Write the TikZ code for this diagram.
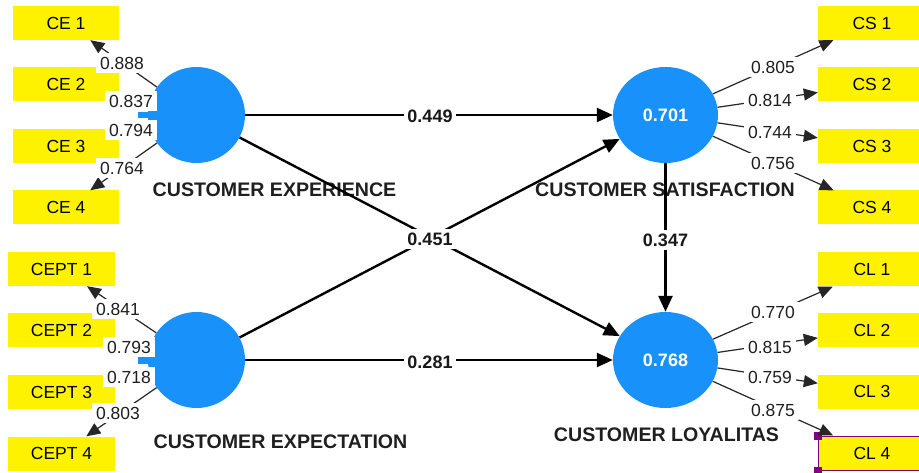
\documentclass[tikz,border=0pt]{standalone}
\usepackage{fontspec}
\setmainfont{Liberation Sans}
\usetikzlibrary{arrows.meta,shapes.geometric}
\definecolor{lvblue}{RGB}{24,146,250}
\definecolor{selpurple}{RGB}{128,0,128}
\begin{document}
\begin{tikzpicture}[x=1pt,y=-1pt,
  ind/.style={fill=yellow, minimum width=106pt, minimum height=34pt, inner sep=0pt,
    font=\fontsize{17.5}{18}\selectfont, text=black},
  lv/.style={ellipse, fill=lvblue, inner sep=0pt, minimum height=96pt,
    font=\bfseries\fontsize{18}{18}\selectfont, text=white},
  lvname/.style={font=\bfseries\fontsize{19.6}{20}\selectfont, text=black!88, inner sep=0pt},
  load/.style={fill=white, inner xsep=4pt, inner ysep=4pt, font=\fontsize{17.5}{18}\selectfont, text=black!88},
  coef/.style={fill=white, inner xsep=3pt, inner ysep=4pt, font=\bfseries\fontsize{18}{18}\selectfont, text=black!90},
  meas/.style={draw=black!85, line width=1.2pt, -{Triangle[length=14pt,width=12pt]}},
  struct/.style={draw=black, line width=2.4pt, -{Triangle[length=16pt,width=14pt]}},
  handle/.style={fill=selpurple, minimum size=8pt, inner sep=0pt}
]
\path[use as bounding box, clip] (0,0) rectangle (919,473);
\fill[white] (0,0) rectangle (919,473);

% latent variables
\node[lv, minimum width=97pt] (ce) at (196.5,115) {};
\node[lv, minimum width=97pt] (cept) at (196.5,360) {};
\node[lv, minimum width=105pt] (cs) at (665.5,115) {0.701};
\node[lv, minimum width=105pt] (cl) at (665.5,360) {0.768};

% indicators
\node[ind] (ce1) at (66,23) {CE 1};
\node[ind] (ce2) at (66,84.5) {CE 2};
\node[ind] (ce3) at (66,146) {CE 3};
\node[ind] (ce4) at (66,207.5) {CE 4};
\node[ind, minimum width=107pt] (cept1) at (61.5,269) {CEPT 1};
\node[ind, minimum width=107pt] (cept2) at (61.5,330) {CEPT 2};
\node[ind, minimum width=107pt] (cept3) at (61.5,392) {CEPT 3};
\node[ind, minimum width=107pt] (cept4) at (61.5,453.5) {CEPT 4};
\node[ind, minimum width=108pt] (cs1) at (872,23) {CS 1};
\node[ind, minimum width=108pt] (cs2) at (872,84.5) {CS 2};
\node[ind, minimum width=108pt] (cs3) at (872,146) {CS 3};
\node[ind, minimum width=108pt] (cs4) at (872,207.5) {CS 4};
\node[ind, minimum width=108pt] (cl1) at (872,269.5) {CL 1};
\node[ind, minimum width=108pt] (cl2) at (872,330) {CL 2};
\node[ind, minimum width=108pt] (cl3) at (872,391.5) {CL 3};
\node[ind, minimum width=108pt, draw=selpurple, line width=1pt] (cl4) at (872,453) {CL 4};
\node[handle] (h1) at (cl4.north west) {};
\node[handle] (h2) at (cl4.south west) {};

% latent variable names
\node[lvname] (nce) at (274.5,190) {CUSTOMER EXPERIENCE};
\node[lvname] (ncept) at (280.5,441.5) {CUSTOMER EXPECTATION};
\node[lvname] (ncs) at (665,190) {CUSTOMER SATISFACTION};
\node[lvname] (ncl) at (666.5,435) {CUSTOMER LOYALITAS};

% measurement arrows
\draw[meas] (ce) -- (ce1);
\draw[meas] (ce) -- (ce4);
\draw[meas] (cept) -- (cept1);
\draw[meas] (cept) -- (cept4);
\draw[meas] (cs) -- (cs1);
\draw[meas] (cs) -- (cs2);
\draw[meas] (cs) -- (cs3);
\draw[meas] (cs) -- (cs4);
\draw[meas] (cl) -- (cl1);
\draw[meas] (cl) -- (cl2);
\draw[meas] (cl) -- (cl3);
\draw[meas] (cl) -- (cl4);

% stubs on the left circles
\fill[lvblue] (138,112) rectangle (152,118);
\fill[lvblue] (138,357) rectangle (152,364);

% structural arrows
\draw[struct] (ce) -- (cs);
\draw[struct] (ce) -- (cl);
\draw[struct] (cept) -- (cs);
\draw[struct] (cept) -- (cl);
\draw[struct] (cs) -- (cl);

% loadings
\node[load] (l1) at (122,63) {0.888};
\node[load] (l2) at (131,101) {0.837};
\node[load] (l3) at (131,130) {0.794};
\node[load] (l4) at (122,168) {0.764};
\node[load] (l5) at (118,309) {0.841};
\node[load] (l6) at (129,347) {0.793};
\node[load] (l7) at (129,377) {0.718};
\node[load] (l8) at (118,413) {0.803};
\node[load] (l9) at (773,67) {0.805};
\node[load] (l10) at (770,100) {0.814};
\node[load] (l11) at (770,132) {0.744};
\node[load] (l12) at (773,163) {0.756};
\node[load] (l13) at (773,312) {0.770};
\node[load] (l14) at (770,347) {0.815};
\node[load] (l15) at (770,377) {0.759};
\node[load] (l16) at (773,410) {0.875};

% path coefficients
\node[coef] (p1) at (430,116) {0.449};
\node[coef] (p2) at (430,239) {0.451};
\node[coef] (p3) at (430,362) {0.281};
\node[coef] (p4) at (665.5,240) {0.347};
\end{tikzpicture}
\end{document}
